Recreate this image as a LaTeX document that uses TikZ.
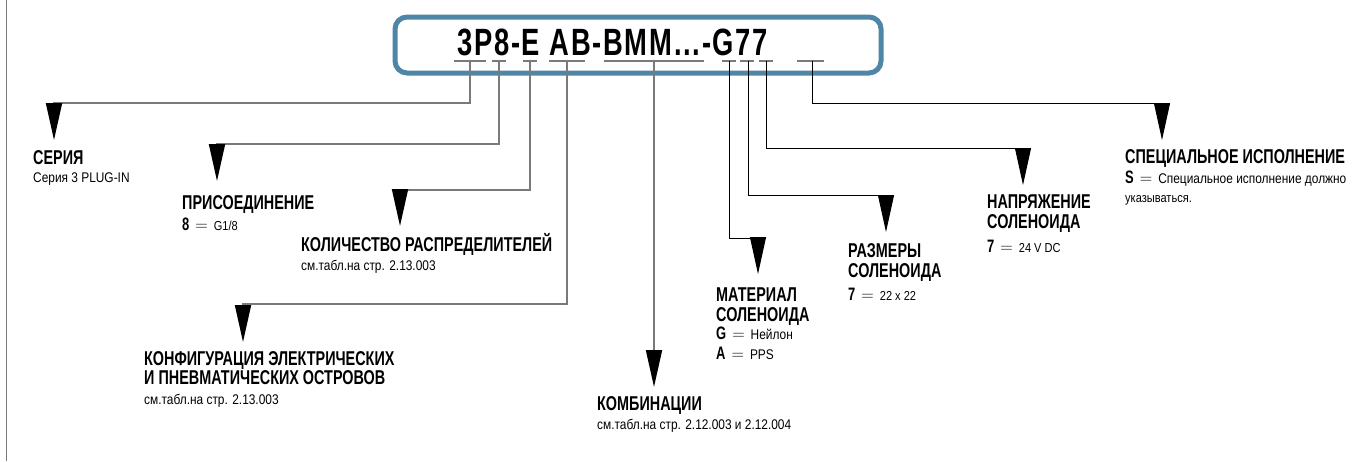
\documentclass[tikz,border=0pt]{standalone}
\usepackage{fontspec}
\usetikzlibrary{arrows.meta}
\newfontfamily\ttlfont[FakeStretch=0.72,LetterSpace=4.6]{Liberation Sans}
\newfontfamily\hdfont[FakeStretch=0.72]{Liberation Sans}
\newfontfamily\sbfont[FakeStretch=0.85]{Liberation Sans}
\definecolor{boxblue}{HTML}{4F86A8}
\definecolor{lgray}{HTML}{7A7A7A}
\newcommand\vk[1]{{\hdfont\bfseries\fontsize{18}{18}\selectfont #1}}
\newcommand\eqs{\hspace{6pt}{\fontsize{18}{18}\selectfont$=$}\hspace{6pt}}
\newcommand\vs[1]{{\sbfont\fontsize{13}{13}\selectfont #1}}
\begin{document}
\begin{tikzpicture}[x=1pt,y=-1pt,
  hd/.style={font=\hdfont\bfseries\fontsize{20}{21}\selectfont, inner sep=0pt, anchor=base west},
  sb/.style={font=\sbfont\fontsize{14}{15}\selectfont, inner sep=0pt, anchor=base west},
  vl/.style={inner sep=0pt, anchor=base west},
  uline/.style={draw=lgray, line width=1.8pt},
  gconn/.style={draw=lgray, line width=1.8pt, -{Triangle[width=16pt,length=37pt,color=black]}},
  bconn/.style={draw=black, line width=1pt, -{Triangle[width=16pt,length=37pt,color=black]}},
  frame/.style={draw=boxblue, line width=5pt, rounded corners=12pt, minimum width=486pt, minimum height=56pt, inner sep=0pt}
]
\useasboundingbox (0,0) rectangle (1357,461);
\draw[lgray, line width=1.5pt] (6.5,0) -- (6.5,461);

% code box
\node[frame] (frame) at (638,45) {};
\node[inner sep=0pt, anchor=base west, font=\ttlfont\bfseries\fontsize{38}{38}\selectfont] (title) at (457,55) {3P8-E AB-BMM...-G77};

% underlines
\draw[uline] (454,61) -- (486,61); \coordinate (u1) at (470,61);
\draw[uline] (492,61) -- (506,61); \coordinate (u2) at (499,61);
\draw[uline] (523,61) -- (537,61); \coordinate (u3) at (530,61);
\draw[uline] (549,61) -- (585,61); \coordinate (u4) at (567,61);
\draw[uline] (604,61) -- (704,61); \coordinate (u5) at (654,61);
\draw[uline] (722,61) -- (736,61); \coordinate (u6) at (729,61);
\draw[uline] (740,61) -- (754,61); \coordinate (u7) at (748,61);
\draw[uline] (759,61) -- (773,61); \coordinate (u8) at (766,61);
\draw[uline] (797,61) -- (824,61); \coordinate (u9) at (812,61);

% arrow tip ends
\coordinate (t1) at (54,140);
\coordinate (t2) at (217,181);
\coordinate (t3) at (400,226);
\coordinate (t4) at (243,342);
\coordinate (t5) at (654,387);
\coordinate (t6) at (758,274);
\coordinate (t7) at (886,232);
\coordinate (t8) at (1023,185);
\coordinate (t9) at (1162,140);

\draw[gconn] (u1) |- (54,103) -- (t1);
\draw[gconn] (u2) |- (217,144) -- (t2);
\draw[gconn] (u3) |- (400,190) -- (t3);
\draw[gconn] (u4) |- (243,304) -- (t4);
\draw[gconn] (u5) -- (t5);
\draw[bconn] (u6) |- (758,238) -- (t6);
\draw[bconn] (u7) |- (886,195) -- (t7);
\draw[bconn] (u8) |- (1023,148) -- (t8);
\draw[bconn] (u9) |- (1162,103) -- (t9);

% labels
\node[hd] (ser) at (33,164) {СЕРИЯ};
\node[sb] (ser2) at (33,182) {Серия 3 PLUG-IN};

\node[hd] (pri) at (182,209) {ПРИСОЕДИНЕНИЕ};
\node[vl] (pri2) at (182,230) {\vk{8}\eqs\vs{G1/8}};

\node[hd] (kol) at (301,251) {КОЛИЧЕСТВО РАСПРЕДЕЛИТЕЛЕЙ};
\node[sb] (kol2) at (301,270) {см.табл.на стр. 2.13.003};

\node[hd] (kon) at (144,365) {КОНФИГУРАЦИЯ ЭЛЕКТРИЧЕСКИХ};
\node[hd] (kon2) at (144,384) {И ПНЕВМАТИЧЕСКИХ ОСТРОВОВ};
\node[sb] (kon3) at (144,404) {см.табл.на стр. 2.13.003};

\node[hd] (kom) at (597,410) {КОМБИНАЦИИ};
\node[sb] (kom2) at (597,429) {см.табл.на стр. 2.12.003 и 2.12.004};

\node[hd] (mat) at (716,301) {МАТЕРИАЛ};
\node[hd] (mat2) at (716,321) {СОЛЕНОИДА};
\node[vl] (mat3) at (716,339) {\vk{G}\eqs{\sbfont\fontsize{14}{14}\selectfont Нейлон}};
\node[vl] (mat4) at (716,359) {\vk{A}\eqs{\sbfont\fontsize{14}{14}\selectfont PPS}};

\node[hd] (raz) at (848,257) {РАЗМЕРЫ};
\node[hd] (raz2) at (848,277) {СОЛЕНОИДА};
\node[vl] (raz3) at (848,300) {\vk{7}\eqs\vs{22 x 22}};

\node[hd] (nap) at (987,208) {НАПРЯЖЕНИЕ};
\node[hd] (nap2) at (987,228) {СОЛЕНОИДА};
\node[vl] (nap3) at (987,252) {\vk{7}\eqs\vs{24 V DC}};

\node[hd] (spe) at (1125,163) {СПЕЦИАЛЬНОЕ ИСПОЛНЕНИЕ};
\node[vl] (spe2) at (1125,183) {\vk{S}\eqs{\sbfont\fontsize{14}{14}\selectfont Специальное исполнение должно}};
\node[sb] (spe3) at (1125,202) {\fontsize{13}{13}\selectfont указываться.};
\end{tikzpicture}
\end{document}
